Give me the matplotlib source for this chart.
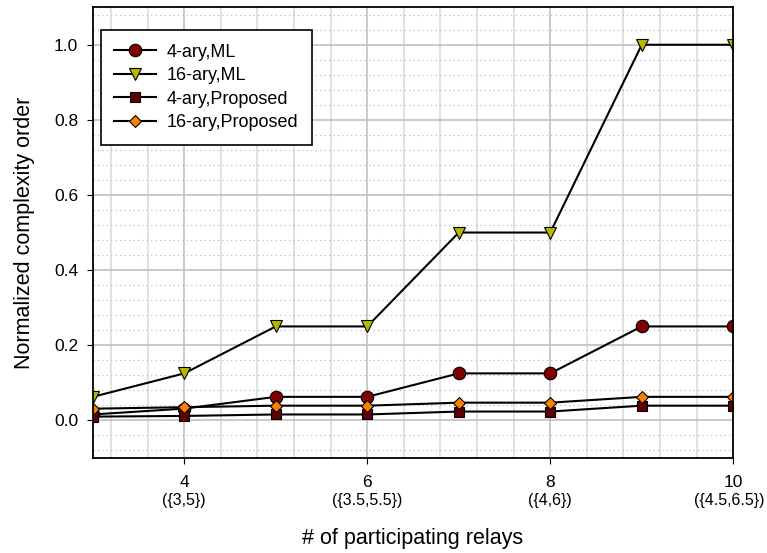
import matplotlib.pyplot as plt
from matplotlib.ticker import MultipleLocator

plt.rcParams['font.family'] = ['Liberation Sans', 'DejaVu Sans']

relays = [3, 4, 5, 6, 7, 8, 9, 10]
ml_4 = [0.0156, 0.03125, 0.0625, 0.0625, 0.125, 0.125, 0.25, 0.25]
ml_16 = [0.0625, 0.125, 0.25, 0.25, 0.5, 0.5, 1.0, 1.0]
prop_4 = [0.0098, 0.0117, 0.0156, 0.0156, 0.0234, 0.0234, 0.039, 0.039]
prop_16 = [0.031, 0.035, 0.039, 0.039, 0.047, 0.047, 0.0625, 0.0625]
xticks = [4, 6, 8, 10]
xsub = ['({3,5})', '({3.5,5.5})', '({4,6})', '({4.5,6.5})']

fig = plt.figure(figsize=(7.67, 5.53), dpi=100)
ax = fig.add_axes([0.121, 0.172, 0.835, 0.815])
ax.set_xlim(3, 10)
ax.set_ylim(-0.1, 1.1)

# grid: solid major, light minor
ax.xaxis.set_minor_locator(MultipleLocator(0.4))
ax.yaxis.set_minor_locator(MultipleLocator(0.04))
ax.grid(True, which='major', color='#c0c0c0', lw=1.2)
ax.grid(True, which='minor', axis='x', color='#dcdcdc', lw=1.2)
ax.grid(True, which='minor', axis='y', color='#b0b0cc', lw=0.8, ls=(0, (1, 3)))
ax.set_axisbelow(True)
ax.tick_params(which='minor', length=0)

ax.plot(relays, ml_4, '-o', color='black', lw=1.5, ms=9, mfc='#800000', mec='black', mew=0.8, label='4-ary,ML')
ax.plot(relays, ml_16, '-v', color='black', lw=1.5, ms=9, mfc='#b4ba00', mec='black', mew=0.8, label='16-ary,ML')
ax.plot(relays, prop_4, '-s', color='black', lw=1.5, ms=7.5, mfc='#5c0000', mec='black', mew=0.8, label='4-ary,Proposed')
ax.plot(relays, prop_16, '-D', color='black', lw=1.5, ms=6.5, mfc='#ff8000', mec='black', mew=0.8, label='16-ary,Proposed')

ax.set_yticks([0.0, 0.2, 0.4, 0.6, 0.8, 1.0])
ax.set_yticklabels(['0.0', '0.2', '0.4', '0.6', '0.8', '1.0'], fontsize=12.5)
ax.set_xticks(xticks)
ax.set_xticklabels([str(v) for v in xticks], fontsize=12.5)
ax.tick_params(axis='x', which='major', direction='out', length=4.5, pad=8)
ax.tick_params(axis='y', which='major', direction='out', length=4.5, pad=6)
for v, s in zip(xticks, xsub):
    dx = -3 if v == xticks[-1] else 0   # keep the last one inside the figure
    ax.annotate(s, xy=(v, 0), xycoords=('data', 'axes fraction'), xytext=(dx, -25),
                textcoords='offset points', ha='center', va='top', fontsize=11.5)

for sp in ax.spines.values():
    sp.set_linewidth(1.3)

ax.set_xlabel('# of participating relays', fontsize=15.5, va='top')
ax.xaxis.set_label_coords(0.5, -0.155)
ax.set_ylabel('Normalized complexity order', fontsize=15.5, labelpad=14)

leg = ax.legend(loc='upper left', fontsize=13, fancybox=False, framealpha=1,
                edgecolor='black', handlelength=2.3, handletextpad=0.6, borderpad=0.75,
                labelspacing=0.36, borderaxespad=0, bbox_to_anchor=(0.0125, 0.949))
leg.get_frame().set_linewidth(1.2)

fig.savefig('out.png', dpi=100)
